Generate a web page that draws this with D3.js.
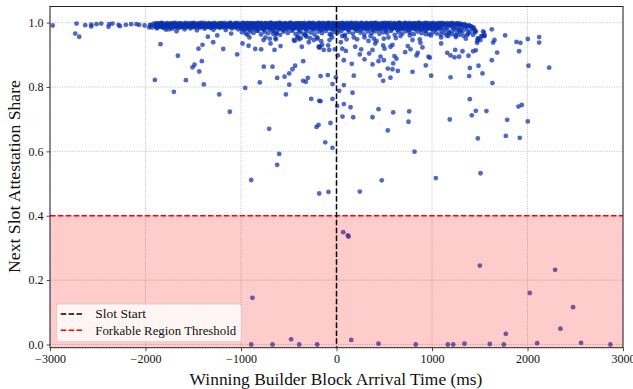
<!DOCTYPE html>
<html><head><meta charset="utf-8">
<script src="https://cdn.jsdelivr.net/npm/d3@7"></script>
<style>
html,body{margin:0;padding:0;background:#fff;}
svg text{font-family:"Liberation Serif","DejaVu Serif",serif;fill:#111;}
</style></head>
<body>
<svg id="chart" width="633" height="389"></svg>
<script>
const xTicks = [-3000,-2000,-1000,0,1000,2000,3000];
const yTicks = [0.0,0.2,0.4,0.6,0.8,1.0];
const slotStart = 0;
const forkThreshold = 0.4;
const xLabel = "Winning Builder Block Arrival Time (ms)";
const yLabel = "Next Slot Attestation Share";
const legendLabels = ["Slot Start","Forkable Region Threshold"];

// sparse points [ms, share]
const scatterPoints = [
[-2972,.991],[-2722,.997],[-2736,.966],[-2694,.956],[-2631,.992],[-2568,.994],[-2568,.988],[-2513,.995],[-2464,.997],[-2387,.987],[-2380,.995],[-2345,.997],[-2282,.993],[-2268,.989],[-2206,.993],[-2150,.995],[-2094,.995],[-2066,.993],[-2010,.991],[-1962,.985],[-1947,.991],[-1884,.991],[-1870,.995],
[-1843,.933],[-1661,.897],[-1902,.822],[-1703,.785],[-1577,.821],[-1508,.861],[-1487,.869],[-1437,.848],[-1445,.919],[-1403,.931],[-1410,.880],[-1389,.808],[-1347,.956],[-1291,.939],[-1249,.960],[-1228,.777],[-1186,.918],[-1117,.723],[-1103,.966],[-1040,.901],[-984,.935],[-956,.797],[-921,.928],[-893,.511],[-851,.918],[-803,.814],[-789,.917],[-761,.863],[-764,.946],[-705,.670],[-698,.950],[-691,.935],[-670,.863],[-649,.915],[-635,.948],[-628,.966],[-621,.828],[-621,.558],[-600,.592],[-586,.927],[-544,.832],[-530,.777],[-495,.842],[-495,.807],[-461,.855],[-447,.946],[-433,.866],[-405,.956],[-391,.948],[-363,.925],[-349,.880],[-349,.819],[-328,.962],[-314,.956],[-321,.816],[-300,.828],[-265,.763],[-237,.946],[-209,.676],[-188,.682],[-181,.757],[-181,.469],[-202,.954],[-188,.925],
[-174,.925],[-160,.942],[-133,.915],[-76,.915],[-167,.834],[-91,.837],[-42,.809],[-7,.830],[-167,.756],[-42,.763],[28,.788],[77,.806],[168,.782],[7,.741],[77,.747],[147,.737],[63,.708],[175,.706],[-63,.688],[-118,.628],[-42,.611],[-84,.474],[244,.475],[474,.510],[537,.665],[377,.706],[440,.731],[594,.721],[761,.724],[754,.692],[817,.599],[1040,.517],[1186,.699],[1396,.762],[1417,.712],[1459,.726],[1480,.640],[1508,.532],[1570,.725],[1787,.698],[1773,.648],[1905,.739],[1940,.744],[1919,.642],[2003,.693],[2010,.866],[2227,.860],[2122,.955],[2122,.938],[2003,.949],[1884,.940],[1926,.937],[1912,.911],[1766,.960],[1626,.979],[1640,.938],[1654,.946],[1682,.907],[1626,.883],[1633,.812],[1487,.866],[1529,.842],[1396,.859],[1389,.834],[1194,.830],[991,.835],[935,.867],[796,.847],[642,.850],[586,.855],[594,.873],[537,.857],[489,.819],[454,.836],[565,.829],[181,.835],[377,.870],[440,.880],[496,.883],[160,.872],[77,.883],[14,.898],[244,.901],[293,.886],[342,.904],[377,.915],[98,.912],[196,.925],[461,.894],[503,.919],[607,.896],[628,.888],[719,.908],[775,.917],[747,.927],[838,.898],[851,.906],[900,.923],[872,.948],[879,.937],[963,.894],[977,.891],[1096,.935],[1159,.906],[1194,.898],[1236,.892],[1284,.894],[1243,.915],[1319,.911],[1382,.897],[1431,.911],[1459,.914],[1473,.937],[1480,.951],[1515,.958],[1543,.968],[1452,.970],[1354,.950],[1368,.962],
[-1751,.979],[-1675,.973],[-932,.962],[-911,.954],[-743,.954],[-660,.964],[-631,.966],[-639,.952],[-437,.943],[-408,.954],[-373,.952],[-325,.960],[-290,.939],[-276,.952],[-199,.950],[-178,.922],[-150,.931],[-87,.929],[-73,.946],[-45,.954],[-60,.962],[-18,.917],[60,.919],[60,.958],[45,.939],[258,.917],[405,.935],[489,.929],[565,.925],[586,.931],[496,.950],[1459,.973],[1473,.943],[1487,.950],[1536,.973],[1550,.960],[1096,.954],[84,.958],[105,.948],[181,.954],[216,.948],[293,.954],[335,.943],[356,.958],[391,.950],[419,.943],[544,.954],[621,.952],[670,.958],[768,.960],[796,.946],[935,.964],[991,.960],[1152,.960],[1180,.968],[1250,.960],[1298,.973],[1529,.958],[1550,.958],[1508,.946]
];

// points inside the forkable region
const forkPoints = [
[70,.349],[119,.339],[126,.335],[1501,.245],[2289,.232],[2024,.160],[2477,.116],[2345,.049],[1773,.033],[154,.014],[440,.0025],[-202,0],[830,0],[1166,0],[1222,0],[1340,.0025],[1605,.0015],[1752,0],[2101,.004],[2561,.005],[2868,0],[-880,.145],[-893,0],[-670,0],[-475,.016],[-391,0]
];

// dense band near full share (first pass)
const bandPoints = [
[-1950,.993],[-1930,.985],[-1915,.997],[-1900,.990],[-1880,.982],[-1865,.995],[-1850,.988],[-1830,.998],[-1815,.984],[-1800,.992],[-1785,.978],[-1770,.996],[-1755,.987],[-1740,.993],[-1720,.981],[-1705,.998],[-1690,.989],[-1672,.994],[-1655,.983],[-1640,.997],[-1622,.986],[-1608,.991],[-1590,.979],[-1575,.996],[-1560,.988],[-1542,.993],[-1528,.982],[-1510,.998],[-1495,.987],[-1480,.992],[-1462,.976],[-1448,.995],[-1430,.985],[-1415,.999],[-1400,.990],[-1383,.981],[-1368,.994],[-1350,.987],[-1335,.997],[-1318,.983],[-1302,.992],[-1288,.978],[-1270,.996],[-1255,.989],[-1240,.993],[-1222,.984],[-1208,.998],[-1190,.986],[-1175,.991],[-1160,.977],[-1142,.995],[-1128,.988],[-1110,.999],[-1095,.982],[-1080,.993],[-1062,.987],[-1048,.996],[-1030,.979],[-1015,.991],
[-998,.994],[-998,.982],[-979,.999],[-979,.987],[-961,.990],[-961,.976],[-940,.996],[-940,.984],[-921,.992],[-921,.979],[-902,.998],[-902,.988],[-881,.985],[-881,.993],[-862,.997],[-862,.980],[-843,.991],[-843,.986],[-820,.999],[-820,.975],[-801,.989],[-801,.994],[-782,.983],[-782,.996],[-761,.993],[-761,.978],[-742,.998],[-742,.987],[-720,.986],[-720,.991],[-701,.995],[-701,.981],[-682,.990],[-682,.999],[-660,.977],[-660,.993],[-641,.996],[-641,.985],[-622,.988],[-622,.992],[-600,.999],[-600,.980],[-581,.984],[-581,.994],[-562,.991],[-562,.976],[-540,.997],[-540,.988],[-521,.982],[-521,.993],[-502,.995],[-502,.986],[-480,.989],[-480,.999],[-461,.979],[-461,.992],[-442,.996],[-442,.984],[-420,.987],[-420,.993],[-401,.998],[-401,.981],[-382,.992],[-382,.975],[-360,.985],[-360,.997],[-341,.994],[-341,.988],[-322,.980],[-322,.991],[-300,.996],[-300,.986],[-281,.989],[-281,.999],[-262,.983],[-262,.993],[-240,.997],[-240,.978],[-221,.991],[-221,.987],[-202,.986],[-202,.995],[-180,.999],[-180,.982],[-161,.993],[-161,.976],[-142,.988],[-142,.996],[-120,.981],[-120,.992],[-101,.997],[-101,.985],[-82,.990],[-82,.999],[-60,.984],[-60,.993],[-41,.995],[-41,.979],[-22,.989],[-22,.987],[0,.998],[0,.983],[19,.992],[19,.976],[38,.986],[38,.996],[60,.999],[60,.989],[79,.982],[79,.993],[98,.995],[98,.985],[120,.990],[120,.978],[139,.997],[139,.992],[158,.984],[158,.999],[180,.993],[180,.987],[199,.979],[199,.995],[218,.996],[218,.983],[240,.988],[240,.991],[259,.999],[259,.976],[278,.985],[278,.994],[300,.992],[300,.986],[319,.997],[319,.981],[338,.983],[338,.990],[360,.994],[360,.998],[379,.987],[379,.977],[398,.999],[398,.991],[420,.981],[420,.985],[439,.995],[439,.993],[458,.989],[458,.978],[480,.996],[480,.986],[499,.984],[499,.999],[518,.992],[518,.975],[540,.998],[540,.988],[559,.986],[559,.993],[578,.991],[578,.980],[600,.997],[600,.985],[619,.983],[619,.994],[638,.995],[638,.977],[660,.988],[660,.999],[679,.993],[679,.982],[698,.980],[698,.990],[720,.999],[720,.986],[739,.987],[739,.994],[758,.994],[758,.976],[780,.982],[780,.997],[799,.990],[799,.985],[818,.997],[818,.979],[840,.985],[840,.992],[859,.993],[859,.999],[878,.978],[878,.988],[900,.996],[900,.983],[919,.989],[919,.994],[938,.999],[938,.975],[960,.984],[960,.991],[979,.992],[979,.986],[998,.997],[998,.980],[1020,.987],[1020,.995],[1039,.994],[1039,.978],[1058,.981],[1058,.989],[1080,.998],[1080,.985],[1099,.990],[1099,.973],[1118,.985],[1118,.996],[1140,.996],[1140,.979],[1159,.982],[1159,.991],[1178,.993],[1178,.970],[1200,.988],[1200,.997],[1219,.976],[1219,.986],[1238,.995],[1238,.981],[1260,.984],[1260,.968],[1279,.991],[1279,.977],[1298,.979],[1298,.994],[1320,.987],[1320,.972],[1345,.983],[1345,.993],[1370,.976],[1370,.988],[1395,.990],[1395,.971],[1420,.981],[1420,.985],[1445,.974],[1445,.979],
[-990,.970],[-950,.966],[-905,.972],[-870,.968],[-833,.974],[-790,.963],[-752,.971],[-715,.967],[-672,.973],[-630,.969],[-590,.962],[-553,.972],[-510,.968],[-470,.974],[-430,.965],[-392,.970],[-351,.966],[-311,.973],[-270,.969],[-230,.963],[-191,.972],[-151,.967],[-110,.974],[-70,.964],[-30,.970],[10,.968],[49,.973],[89,.962],[130,.971],[170,.966],[209,.974],[249,.969],[290,.963],[330,.972],[370,.967],[410,.973],[450,.965],[490,.970],[530,.968],[570,.974],[610,.962],[650,.971],[690,.966],[730,.973],[770,.969],[810,.964],[850,.972],[890,.967],[930,.974],[970,.963],[1010,.970],[1050,.966],[1090,.962],[1130,.968],[1170,.958],[1210,.964],[1250,.955],[1290,.962],[1330,.959],[1380,.965],[1430,.962]
];

// dense band near full share (second pass)
const bandPoints2 = [
[-1895,.996],[-1895,.988],[-1880,.998],[-1880,.985],[-1865,.994],[-1865,.990],[-1850,.997],[-1850,.987],[-1835,.999],[-1835,.989],[-1820,.995],[-1820,.986],[-1805,.997],[-1805,.991],[-1790,.993],[-1790,.985],[-1775,.998],[-1775,.988],[-1760,.996],[-1760,.990],
[-1745,.995],[-1745,.986],[-1730,.998],[-1730,.989],[-1715,.994],[-1715,.987],[-1700,.997],[-1700,.991],[-1685,.999],[-1685,.985],[-1670,.996],[-1670,.988],[-1655,.993],[-1655,.990],[-1640,.998],[-1640,.986],[-1625,.995],[-1625,.989],[-1610,.997],[-1610,.987],
[-1595,.994],[-1595,.991],[-1580,.999],[-1580,.985],[-1565,.996],[-1565,.988],[-1550,.995],[-1550,.990],[-1535,.998],[-1535,.986],[-1520,.993],[-1520,.989],[-1505,.997],[-1505,.987],[-1490,.999],[-1490,.991],[-1475,.996],[-1475,.985],[-1460,.994],[-1460,.988],
[-1445,.998],[-1445,.990],[-1430,.995],[-1430,.986],[-1415,.997],[-1415,.989],[-1400,.993],[-1400,.987],[-1385,.999],[-1385,.991],[-1370,.996],[-1370,.985],[-1355,.994],[-1355,.988],[-1340,.998],[-1340,.990],[-1325,.995],[-1325,.986],[-1310,.997],[-1310,.989],
[-1295,.996],[-1295,.987],[-1280,.999],[-1280,.991],[-1265,.994],[-1265,.985],[-1250,.997],[-1250,.988],[-1235,.995],[-1235,.990],[-1220,.998],[-1220,.986],[-1205,.993],[-1205,.989],[-1190,.996],[-1190,.987],[-1175,.999],[-1175,.991],[-1160,.995],[-1160,.985],
[-1145,.997],[-1145,.988],[-1130,.994],[-1130,.990],[-1115,.998],[-1115,.986],[-1100,.996],[-1100,.989],[-1085,.993],[-1085,.987],[-1070,.997],[-1070,.991],[-1055,.999],[-1055,.985],[-1040,.995],[-1040,.988],[-1025,.998],[-1025,.990],[-1010,.994],[-1010,.986],
[-995,.996],[-995,.982],[-980,.998],[-980,.988],[-965,.994],[-965,.980],[-950,.997],[-950,.986],[-935,.999],[-935,.984],[-920,.995],[-920,.990],[-905,.997],[-905,.979],[-890,.993],[-890,.987],[-875,.998],[-875,.983],[-860,.996],[-860,.989],
[-845,.995],[-845,.985],[-830,.998],[-830,.981],[-815,.994],[-815,.989],[-800,.997],[-800,.983],[-785,.999],[-785,.987],[-770,.993],[-770,.980],[-755,.996],[-755,.990],[-740,.998],[-740,.984],[-725,.994],[-725,.986],[-710,.997],[-710,.982],
[-695,.999],[-695,.988],[-680,.995],[-680,.980],[-665,.997],[-665,.985],[-650,.993],[-650,.989],[-635,.998],[-635,.983],[-620,.996],[-620,.987],[-605,.994],[-605,.979],[-590,.999],[-590,.986],[-575,.995],[-575,.984],[-560,.997],[-560,.990],
[-545,.996],[-545,.982],[-530,.998],[-530,.988],[-515,.994],[-515,.980],[-500,.997],[-500,.986],[-485,.999],[-485,.984],[-470,.995],[-470,.990],[-455,.997],[-455,.979],[-440,.993],[-440,.987],[-425,.998],[-425,.983],[-410,.996],[-410,.989],
[-395,.995],[-395,.985],[-380,.998],[-380,.981],[-365,.994],[-365,.989],[-350,.997],[-350,.983],[-335,.999],[-335,.987],[-320,.993],[-320,.980],[-305,.996],[-305,.990],[-290,.998],[-290,.984],[-275,.994],[-275,.986],[-260,.997],[-260,.982],
[-245,.999],[-245,.988],[-230,.995],[-230,.980],[-215,.997],[-215,.985],[-200,.993],[-200,.989],[-185,.998],[-185,.983],[-170,.996],[-170,.987],[-155,.994],[-155,.979],[-140,.999],[-140,.986],[-125,.995],[-125,.984],[-110,.997],[-110,.990],
[-95,.996],[-95,.982],[-80,.998],[-80,.988],[-65,.994],[-65,.980],[-50,.997],[-50,.986],[-35,.999],[-35,.984],[-20,.995],[-20,.990],[-5,.997],[-5,.979],[10,.993],[10,.987],[25,.998],[25,.983],[40,.996],[40,.989],
[55,.995],[55,.985],[70,.998],[70,.981],[85,.994],[85,.989],[100,.997],[100,.983],[115,.999],[115,.987],[130,.993],[130,.980],[145,.996],[145,.990],[160,.998],[160,.984],[175,.994],[175,.986],[190,.997],[190,.982],
[205,.999],[205,.988],[220,.995],[220,.980],[235,.997],[235,.985],[250,.993],[250,.989],[265,.998],[265,.983],[280,.996],[280,.987],[295,.994],[295,.979],[310,.999],[310,.986],[325,.995],[325,.984],[340,.997],[340,.990],
[355,.996],[355,.982],[370,.998],[370,.988],[385,.994],[385,.980],[400,.997],[400,.986],[415,.999],[415,.984],[430,.995],[430,.990],[445,.997],[445,.979],[460,.993],[460,.987],[475,.998],[475,.983],[490,.996],[490,.989],
[505,.995],[505,.985],[520,.998],[520,.981],[535,.994],[535,.989],[550,.997],[550,.983],[565,.999],[565,.987],[580,.993],[580,.980],[595,.996],[595,.990],[610,.998],[610,.984],[625,.994],[625,.986],[640,.997],[640,.982],
[655,.999],[655,.988],[670,.995],[670,.980],[685,.997],[685,.985],[700,.993],[700,.989],[715,.998],[715,.983],[730,.996],[730,.987],[745,.994],[745,.979],[760,.999],[760,.986],[775,.995],[775,.984],[790,.997],[790,.990],
[805,.996],[805,.982],[820,.998],[820,.988],[835,.994],[835,.980],[850,.997],[850,.986],[865,.999],[865,.984],[880,.995],[880,.990],[895,.997],[895,.979],[910,.993],[910,.987],[925,.998],[925,.983],[940,.996],[940,.989],
[955,.995],[955,.985],[970,.998],[970,.981],[985,.994],[985,.989],[1000,.997],[1000,.983],[1015,.999],[1015,.987],[1030,.993],[1030,.980],[1045,.996],[1045,.990],[1060,.998],[1060,.984],[1075,.994],[1075,.986],[1090,.997],[1090,.982],
[1105,.999],[1120,.995],[1135,.997],[1150,.993],[1165,.998],[1180,.996],[1195,.994],[1210,.999],[1225,.995],[1240,.997],
[1255,.996],[1270,.998],[1285,.994],[1300,.997],[1320,.993],[1340,.995],[1360,.990],[1385,.992],[1410,.988],[1435,.985]
];

const svg = d3.select("#chart");
const L = 50, R = 623, T = 6.5, B = 347.7;
const x = d3.scaleLinear().domain([-3000,3000]).range([L,R]);
const y = d3.scaleLinear().domain([-0.01,1.05]).range([B,T]);

// grid
const grid = svg.append("g");
grid.selectAll("line.gx").data(xTicks).enter().append("line")
  .attr("x1",d=>x(d)).attr("x2",d=>x(d)).attr("y1",T).attr("y2",B)
  .attr("stroke","#b0b0b0").attr("stroke-width",0.8).attr("stroke-dasharray","1,1.4");
grid.selectAll("line.gy").data(yTicks).enter().append("line")
  .attr("x1",L).attr("x2",R).attr("y1",d=>y(d)).attr("y2",d=>y(d))
  .attr("stroke","#b0b0b0").attr("stroke-width",0.8).attr("stroke-dasharray","1,1.4");

// points
const allPts = bandPoints.concat(bandPoints2, scatterPoints, forkPoints);
svg.append("g").selectAll("circle").data(allPts).enter().append("circle")
  .attr("cx",d=>x(d[0])).attr("cy",d=>y(d[1])).attr("r",2.4)
  .attr("fill","#0a30b0").attr("fill-opacity",0.72);

// forkable region
svg.append("rect").attr("x",L).attr("width",R-L)
  .attr("y",y(forkThreshold)).attr("height",B-y(forkThreshold))
  .attr("fill","red").attr("fill-opacity",0.2);

svg.append("line").attr("x1",L).attr("x2",R).attr("y1",y(forkThreshold)).attr("y2",y(forkThreshold))
  .attr("stroke","red").attr("stroke-width",1.5).attr("stroke-dasharray","5.5,2.4");
svg.append("line").attr("x1",x(slotStart)).attr("x2",x(slotStart)).attr("y1",T).attr("y2",B)
  .attr("stroke","black").attr("stroke-width",1.5).attr("stroke-dasharray","5.5,2.4");

// axes
const xAxis = d3.axisBottom(x).tickValues(xTicks).tickSize(3.5).tickPadding(3)
  .tickFormat(d=>d<0 ? "\u2212"+Math.abs(d) : String(d));
const gx = svg.append("g").attr("transform",`translate(0,${B})`).call(xAxis);
const yAxis = d3.axisLeft(y).tickValues(yTicks).tickSize(3.5).tickPadding(3).tickFormat(d3.format(".1f"));
const gy = svg.append("g").attr("transform",`translate(${L},0)`).call(yAxis);
[gx,gy].forEach(g=>{
  g.select(".domain").remove();
  g.selectAll(".tick line").attr("stroke","#222").attr("stroke-width",0.8);
  g.selectAll(".tick text").attr("font-family","Liberation Serif, serif").attr("font-size",12).attr("fill","#222");
});

// frame
svg.append("rect").attr("x",L).attr("y",T).attr("width",R-L).attr("height",B-T)
  .attr("fill","none").attr("stroke","#222").attr("stroke-width",1);

// axis labels
function fit(sel, target){
  const w = sel.node().getComputedTextLength();
  const fs = parseFloat(sel.attr("font-size"));
  sel.attr("font-size", fs*target/w);
}
const xl = svg.append("text").attr("x",(189+483)/2).attr("y",384.5)
  .attr("text-anchor","middle").attr("font-size",16).text(xLabel);
fit(xl, 293);
const yl = svg.append("text").attr("transform","translate(19.5,176.5) rotate(-90)")
  .attr("text-anchor","middle").attr("font-size",16).text(yLabel);
fit(yl, 193);

// legend
const lg = svg.append("g");
lg.append("rect").attr("x",56.7).attr("y",304).attr("width",184.6).attr("height",37.7)
  .attr("rx",2.5).attr("fill","white").attr("fill-opacity",0.8)
  .attr("stroke","#cccccc").attr("stroke-width",0.8);
const legColors = ["black","red"];
legendLabels.forEach((lab,i)=>{
  const cy = 314 + i*16.2;
  lg.append("line").attr("x1",60.7).attr("x2",84).attr("y1",cy).attr("y2",cy)
    .attr("stroke",legColors[i]).attr("stroke-width",1.5).attr("stroke-dasharray","5.5,2.4");
  const t = lg.append("text").attr("x",95.3).attr("y",cy+4.3).attr("font-size",12).text(lab);
  fit(t, i===0 ? 50.7 : 141);
});
</script>
</body></html>
